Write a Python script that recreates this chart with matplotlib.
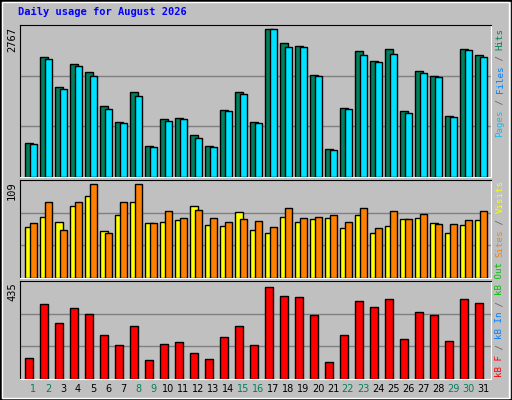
import matplotlib.pyplot as plt
from matplotlib.patches import Rectangle

days = list(range(1, 32))
weekend = [1, 2, 8, 9, 15, 16, 22, 23, 29, 30]

hits = [640, 2240, 1681, 2114, 1958, 1336, 1035, 1587, 584, 1079, 1110, 791, 584, 1261, 1587, 1035,
        2767, 2503, 2447, 1920, 527, 1299, 2353, 2165, 2390, 1230, 1995, 1901, 1148, 2390, 2277]
files = [621, 2202, 1644, 2089, 1901, 1280, 1016, 1525, 565, 1054, 1092, 734, 565, 1242, 1562, 1016,
         2767, 2428, 2428, 1901, 508, 1280, 2277, 2146, 2296, 1205, 1957, 1882, 1129, 2371, 2240]
visits = [59, 71, 65, 84, 96, 55, 73, 88, 64, 65, 68, 84, 62, 60, 77, 56,
          52, 71, 65, 69, 70, 58, 73, 52, 60, 69, 70, 64, 52, 62, 68]
sites = [64, 88, 56, 89, 109, 52, 89, 109, 64, 78, 70, 79, 70, 65, 69, 66,
         59, 82, 70, 71, 73, 65, 82, 58, 78, 69, 75, 63, 63, 68, 78]
kbytes = [100, 354, 263, 335, 306, 210, 163, 253, 91, 167, 177, 124, 96, 201, 249, 163,
          435, 392, 387, 301, 81, 206, 368, 339, 378, 191, 315, 301, 182, 378, 358]

W, H = 512, 400
bg = '#C0C0C0'
fig = plt.figure(figsize=(W / 100, H / 100), dpi=100, facecolor=bg)

def px_axes(x0, y0, x1, y1):
    ax = fig.add_axes([x0 / W, 1 - y1 / H, (x1 - x0) / W, (y1 - y0) / H])
    ax.set_facecolor(bg)
    ax.set_xlim(0, x1 - x0)
    ax.set_xticks([])
    ax.set_yticks([])
    for s in ['left', 'top']:
        ax.spines[s].set_color('black')
    for s in ['right', 'bottom']:
        ax.spines[s].set_color('white')
    return ax

def grid(ax, top):
    ax.set_ylim(0, top)
    for f in (1 / 3, 2 / 3):
        ax.axhline(top * f, color='#808080', lw=1, zorder=0)

xs = [(d - 1) * 15 for d in days]

ax1 = px_axes(20, 25, 491, 177)
grid(ax1, 2767 * 151.5 / 147.2)
ax1.bar([x + 5 for x in xs], hits, width=8, align='edge', color='#00805C', edgecolor='black', lw=1, zorder=2)
ax1.bar([x + 9.5 for x in xs], files, width=7.5, align='edge', color='#00E0FF', edgecolor='black', lw=1, zorder=3)

ax2 = px_axes(20, 180, 491, 278)
grid(ax2, 109 * 96.3 / 92)
ax2.bar([x + 5 for x in xs], visits, width=8, align='edge', color='#FFFF00', edgecolor='black', lw=1, zorder=2)
ax2.bar([x + 9.5 for x in xs], sites, width=7.5, align='edge', color='#FF8000', edgecolor='black', lw=1, zorder=3)

ax3 = px_axes(20, 281, 491, 379)
grid(ax3, 435 * 97 / 91)
ax3.bar([x + 5 for x in xs], kbytes, width=8, align='edge', color='#FF0000', edgecolor='black', lw=1, zorder=2)

mono = 'DejaVu Sans Mono'
fig.text(18 / W, 1 - 12 / H, 'Daily usage for August 2026', color='#0000FF', fontsize=7.5,
         fontweight='bold', family=mono, va='center', ha='left')

for lab, ytop in [('2767', 27), ('109', 181), ('435', 282)]:
    fig.text(12 / W, 1 - ytop / H, lab, rotation=90, fontsize=7.5, family=mono, ha='center', va='top')

def stack(pieces, ybottom, x=500):
    y = ybottom
    for txt, col in pieces:
        fig.text(x / W, 1 - y / H, txt, rotation=90, color=col, fontsize=6.6, family=mono,
                 ha='center', va='bottom')
        y -= len(txt) * 5.45

stack([('Pages', '#00C0FF'), (' / ', '#606060'), ('Files', '#0080FF'), (' / ', '#606060'), ('Hits', '#00805C')], 137)
stack([('Sites', '#FF8000'), (' / ', '#606060'), ('Visits', '#FFFF00')], 257)
stack([('kB F', '#FF0000'), (' / ', '#606060'), ('kB In', '#0080FF'), (' / ', '#606060'), ('kB Out', '#00C000')], 377)

for d, x in zip(days, xs):
    fig.text((20 + x + 13) / W, 1 - 389 / H, str(d), fontsize=7, ha='center', va='center',
             color='#00805C' if d in weekend else 'black')

fig.patches.append(Rectangle((0, 0), 1, 1, transform=fig.transFigure, fill=False,
                             edgecolor='black', lw=2, figure=fig))
fig.patches.append(Rectangle((0.004, 0.005), 0.99, 0.99, transform=fig.transFigure, fill=False,
                             edgecolor='white', lw=1, figure=fig))

fig.savefig('out.png', dpi=100, facecolor=bg)
